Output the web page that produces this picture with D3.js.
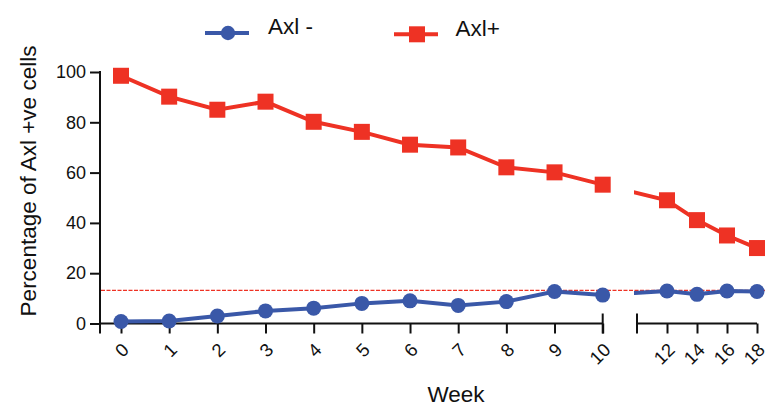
<!DOCTYPE html>
<html>
<head>
<meta charset="utf-8">
<script src="https://cdn.jsdelivr.net/npm/d3@7"></script>
<style>
  html, body { margin: 0; padding: 0; background: #fff; }
  svg { display: block; font-family: "Liberation Sans", Arial, Helvetica, sans-serif; }
</style>
</head>
<body>
<svg id="chart" width="769" height="406"></svg>
<script>
// Weekly percentage of Axl-positive and Axl-negative cells
const weeks = [0, 1, 2, 3, 4, 5, 6, 7, 8, 9, 10, 12, 14, 16, 18];
const axlNeg = [0.8, 1.0, 3.0, 5.0, 6.1, 8.0, 9.0, 7.2, 8.7, 12.7, 11.3, 12.9, 11.6, 12.9, 12.7];
const axlPos = [98.5, 90.2, 85.0, 88.2, 80.2, 76.2, 71.1, 70.0, 62.1, 60.1, 55.2, 49.0, 41.1, 35.0, 30.0];
const ticksLeft = [0, 1, 2, 3, 4, 5, 6, 7, 8, 9, 10];
const ticksRight = [12, 14, 16, 18];
const yTicks = [0, 20, 40, 60, 80, 100];
const threshold = 13.2;
const seriesNames = ["Axl -", "Axl+"];

const BLUE = "#3a58a8";
const RED = "#ee3224";

const svg = d3.select("#chart");

// Broken x axis: two segments with their own linear scales
const breakAt = 10;
const xA = d3.scaleLinear().domain([-0.436, 10]).range([100, 602.7]);
const xB = d3.scaleLinear().domain([10, 18]).range([637, 757]);
const x = w => (w <= breakAt ? xA(w) : xB(w));
const y = d3.scaleLinear().domain([0, 100]).range([323.5, 72]);
const y0 = y(0);

// Clip region that hides the lines inside the axis break
const defs = svg.append("defs");
const clip = defs.append("clipPath").attr("id", "brk");
clip.append("rect").attr("x", 0).attr("y", 0).attr("width", 605).attr("height", 406);
clip.append("rect").attr("x", 634).attr("y", 0).attr("width", 140).attr("height", 406);

// Y axis
const yAxis = d3.axisLeft(y).tickValues(yTicks).tickSize(10).tickSizeOuter(0).tickPadding(4);
const gy = svg.append("g").attr("transform", "translate(100,0)").call(yAxis);
gy.select(".domain").remove();
gy.selectAll(".tick line").attr("stroke", "#111").attr("stroke-width", 2);
gy.selectAll(".tick text").attr("font-size", 18).attr("fill", "#111");
gy.append("line")
  .attr("x1", 0).attr("x2", 0)
  .attr("y1", y(100) - 1).attr("y2", y0 + 10)
  .attr("stroke", "#111").attr("stroke-width", 2);

// X axis segments
function xSegment(scale, ticks, caps) {
  const ax = d3.axisBottom(scale).tickValues(ticks).tickSize(10).tickSizeOuter(0);
  const g = svg.append("g").attr("transform", `translate(0,${y0})`).call(ax);
  g.select(".domain").remove();
  g.selectAll(".tick line").attr("stroke", "#111").attr("stroke-width", 2);
  g.selectAll(".tick text")
    .attr("font-size", 18.5).attr("fill", "#111")
    .attr("text-anchor", "end")
    .attr("x", 0).attr("y", 0).attr("dy", "0.35em")
    .attr("transform", "translate(4,23) rotate(-45)");
  const [r0, r1] = scale.range();
  g.append("line").attr("x1", r0).attr("x2", r1).attr("y1", 0).attr("y2", 0)
    .attr("stroke", "#111").attr("stroke-width", 2);
  caps.forEach(cx => {
    g.append("line").attr("x1", cx).attr("x2", cx).attr("y1", -10).attr("y2", 10)
      .attr("stroke", "#111").attr("stroke-width", 2);
  });
  return g;
}
xSegment(xA, ticksLeft, [xA(10)]);
xSegment(xB, ticksRight, [xB(10)]);

// Threshold reference line
svg.append("line")
  .attr("x1", 101).attr("x2", 765)
  .attr("y1", y(threshold)).attr("y2", y(threshold))
  .attr("stroke", RED).attr("stroke-width", 1.2)
  .attr("stroke-dasharray", "4,1.5");

// Series lines
const line = d3.line().x((d, i) => x(weeks[i])).y(d => y(d));
const lines = svg.append("g").attr("clip-path", "url(#brk)");
lines.append("path").datum(axlPos).attr("d", line)
  .attr("fill", "none").attr("stroke", RED).attr("stroke-width", 4);
lines.append("path").datum(axlNeg).attr("d", line)
  .attr("fill", "none").attr("stroke", BLUE).attr("stroke-width", 4);

// Markers
svg.append("g").selectAll("rect").data(axlPos).join("rect")
  .attr("x", (d, i) => x(weeks[i]) - 8).attr("y", d => y(d) - 8)
  .attr("width", 16).attr("height", 16).attr("fill", RED);
svg.append("g").selectAll("circle").data(axlNeg).join("circle")
  .attr("cx", (d, i) => x(weeks[i])).attr("cy", d => y(d))
  .attr("r", 7.5).attr("fill", BLUE);

// Axis titles
svg.append("text")
  .attr("transform", `translate(36,${(45 + 317) / 2}) rotate(-90)`)
  .attr("text-anchor", "middle")
  .attr("font-size", 22.5).attr("fill", "#111")
  .text("Percentage of Axl  +ve cells");
svg.append("text")
  .attr("x", 456).attr("y", 402)
  .attr("text-anchor", "middle")
  .attr("font-size", 22.5).attr("fill", "#111")
  .text("Week");

// Legend
const lg = svg.append("g");
lg.append("line").attr("x1", 205).attr("x2", 249).attr("y1", 33).attr("y2", 33)
  .attr("stroke", BLUE).attr("stroke-width", 4);
lg.append("circle").attr("cx", 228).attr("cy", 33).attr("r", 7.2).attr("fill", BLUE);
lg.append("text").attr("x", 268).attr("y", 33.5).attr("font-size", 22.5).attr("fill", "#111")
  .text(seriesNames[0]);
lg.append("line").attr("x1", 394).attr("x2", 438).attr("y1", 34.3).attr("y2", 34.3)
  .attr("stroke", RED).attr("stroke-width", 4);
lg.append("rect").attr("x", 417 - 8).attr("y", 34.3 - 8).attr("width", 16).attr("height", 16)
  .attr("fill", RED);
lg.append("text").attr("x", 455.5).attr("y", 35.7).attr("font-size", 22.5).attr("fill", "#111")
  .text(seriesNames[1]);
</script>
</body>
</html>
